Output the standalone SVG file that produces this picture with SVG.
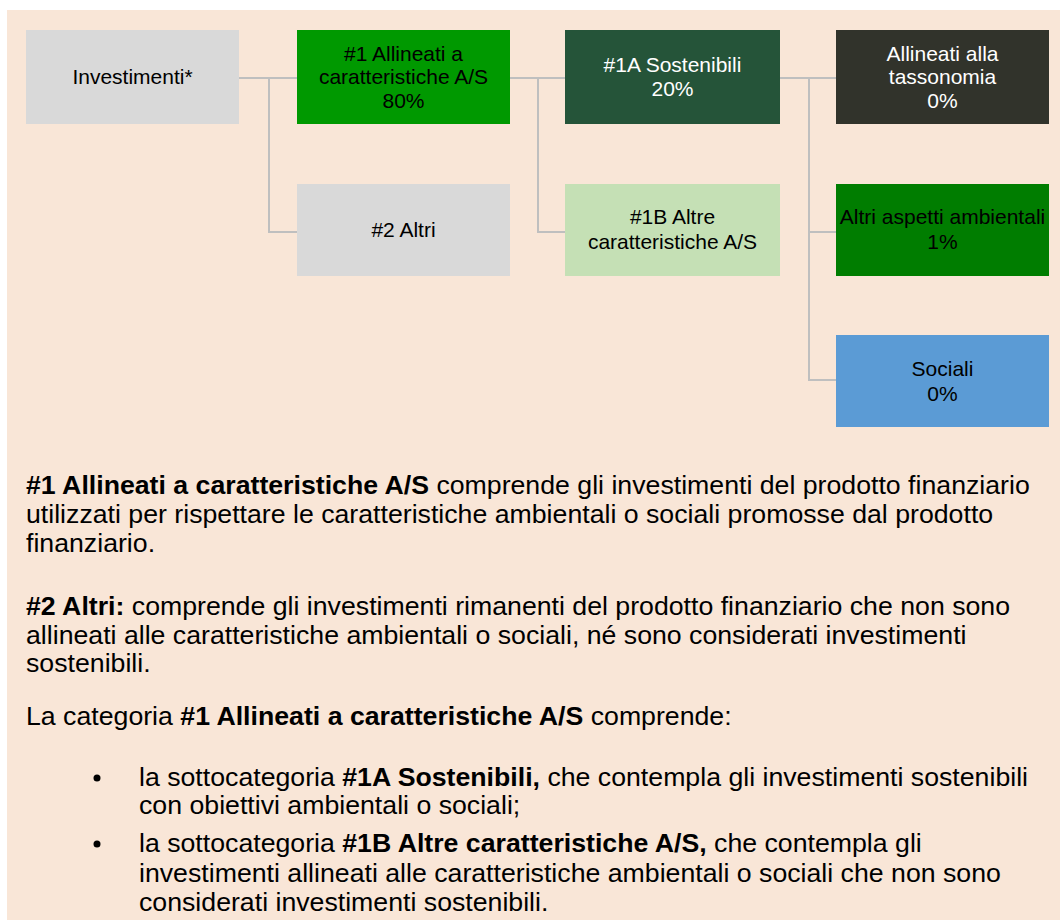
<svg xmlns="http://www.w3.org/2000/svg" width="1060" height="921" viewBox="0 0 1060 921">
<style>
.bt{font-family:"Liberation Sans",Arial,sans-serif;font-size:21px;text-anchor:middle;fill:#000}
.w{fill:#fff}
.tx{font-family:"Liberation Sans",Arial,sans-serif;font-size:26.7px;fill:#000}
.b{font-weight:bold}
.cn{fill:none;stroke:#BFBFBF;stroke-width:2}
</style>
<rect x="0" y="0" width="1060" height="921" fill="#fff"/>
<rect x="7" y="10" width="1053" height="910" fill="#F9E6D7"/>
<g id="connectors">
<path class="cn" d="M239 78H297M269 78V232H297"/>
<path class="cn" d="M510 78H565M538 78V232H565"/>
<path class="cn" d="M780 78H836M809 78V380H836M809 232H836"/>
</g>
<g id="investimenti">
<rect x="26" y="30" width="213" height="94" fill="#D9D9D9"/>
<text class="bt" x="132.5" y="84">Investimenti*</text>
</g>
<g id="n1">
<rect x="297" y="30" width="213" height="94" fill="#009900"/>
<text class="bt" x="403.5" y="60.5">#1 Allineati a</text>
<text class="bt" x="403.5" y="84">caratteristiche A/S</text>
<text class="bt" x="403.5" y="107.5">80%</text>
</g>
<g id="n2">
<rect x="297" y="184" width="213" height="92" fill="#D9D9D9"/>
<text class="bt" x="403.5" y="237">#2 Altri</text>
</g>
<g id="n1a">
<rect x="565" y="30" width="215" height="94" fill="#255439"/>
<text class="bt w" x="672.5" y="72">#1A Sostenibili</text>
<text class="bt w" x="672.5" y="96">20%</text>
</g>
<g id="n1b">
<rect x="565" y="184" width="215" height="92" fill="#C5E0B5"/>
<text class="bt" x="672.5" y="224">#1B Altre</text>
<text class="bt" x="672.5" y="249">caratteristiche A/S</text>
</g>
<g id="tax">
<rect x="836" y="30" width="213" height="94" fill="#31332B"/>
<text class="bt w" x="942.5" y="60.5">Allineati alla</text>
<text class="bt w" x="942.5" y="84">tassonomia</text>
<text class="bt w" x="942.5" y="107.5">0%</text>
</g>
<g id="altri-amb">
<rect x="836" y="184" width="213" height="92" fill="#007D00"/>
<text class="bt" x="942.5" y="224">Altri aspetti ambientali</text>
<text class="bt" x="942.5" y="249">1%</text>
</g>
<g id="sociali">
<rect x="836" y="335" width="213" height="92" fill="#5B9BD5"/>
<text class="bt" x="942.5" y="376">Sociali</text>
<text class="bt" x="942.5" y="401">0%</text>
</g>
<g id="body">
<text class="tx" x="26" y="494"><tspan class="b">#1 Allineati a caratteristiche A/S</tspan> comprende gli investimenti del prodotto finanziario</text>
<text class="tx" x="26" y="523">utilizzati per rispettare le caratteristiche ambientali o sociali promosse dal prodotto</text>
<text class="tx" x="26" y="552">finanziario.</text>
<text class="tx" x="26" y="615"><tspan class="b">#2 Altri:</tspan> comprende gli investimenti rimanenti del prodotto finanziario che non sono</text>
<text class="tx" x="26" y="644">allineati alle caratteristiche ambientali o sociali, né sono considerati investimenti</text>
<text class="tx" x="26" y="672">sostenibili.</text>
<text class="tx" x="26" y="725">La categoria <tspan class="b">#1 Allineati a caratteristiche A/S</tspan> comprende:</text>
<circle cx="97" cy="778" r="3.5" fill="#000"/>
<text class="tx" x="139" y="786">la sottocategoria <tspan class="b">#1A Sostenibili,</tspan> che contempla gli investimenti sostenibili</text>
<text class="tx" x="139" y="814">con obiettivi ambientali o sociali;</text>
<circle cx="97" cy="844" r="3.5" fill="#000"/>
<text class="tx" x="139" y="852">la sottocategoria <tspan class="b">#1B Altre caratteristiche A/S,</tspan> che contempla gli</text>
<text class="tx" x="139" y="882">investimenti allineati alle caratteristiche ambientali o sociali che non sono</text>
<text class="tx" x="139" y="911">considerati investimenti sostenibili.</text>
</g>
</svg>
